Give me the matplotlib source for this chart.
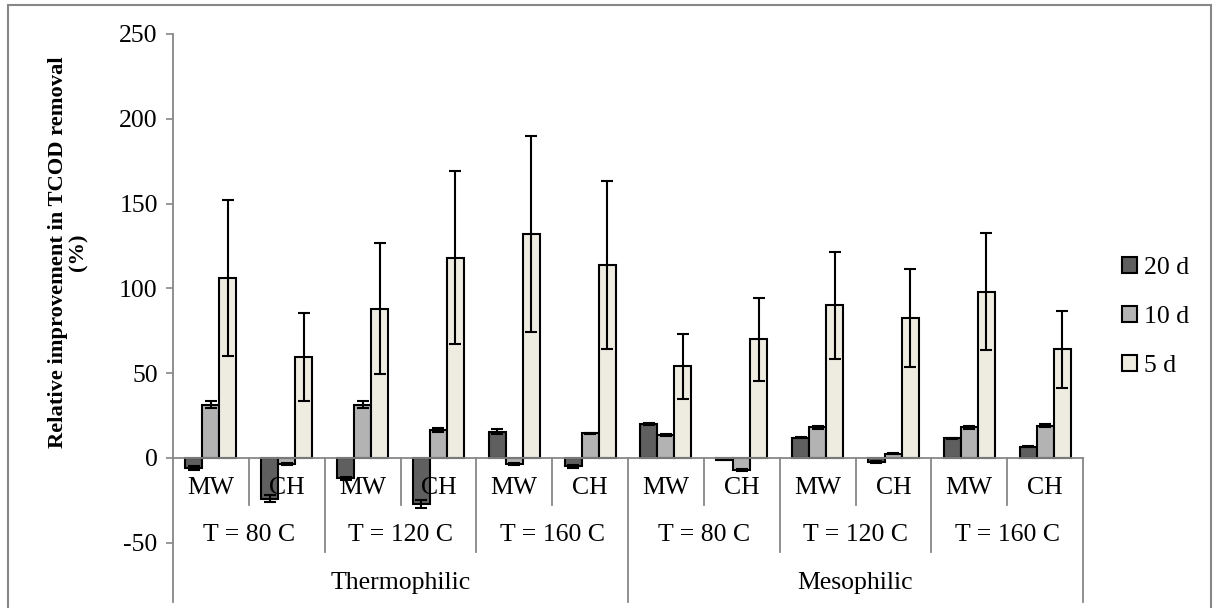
import matplotlib
matplotlib.use("Agg")
import matplotlib.pyplot as plt
from matplotlib.patches import Patch, Rectangle
import numpy as np

plt.rcParams['font.family'] = ['Liberation Serif', 'DejaVu Serif']
plt.rcParams['axes.unicode_minus'] = False

# groupes : Thermophilic / Mesophilic x T x (MW, CH)
methods = ['MW', 'CH'] * 6
temps = ['T = 80 C', 'T = 120 C', 'T = 160 C'] * 2
phases = ['Thermophilic', 'Mesophilic']

d20 = [-6, -24, -12, -27, 15.5, -5, 20, -1, 12, -2.5, 11.5, 6.5]
d10 = [31.5, -3.5, 31.5, 16.5, -3.5, 14.5, 13.5, -7, 18, 2.5, 18, 19]
d5 = [106, 59.5, 88, 118, 132, 114, 54, 70, 90, 82.7, 98, 64]

err20 = [1, 2, 1, 2.5, 1.5, 1, 0.5, 0.3, 0.5, 0.5, 0.5, 0.3]
err10 = [2, 0.5, 2, 1, 0.5, 0.5, 0.5, 0.5, 1, 0.3, 1, 1]
err5 = [46, 26, 38.5, 51, 58, 49.5, 19, 24.5, 31.5, 29, 34.5, 22.5]

series = ['20 d', '10 d', '5 d']
colors = ['#5f5f5f', '#b3b3b3', '#eeece1']

W, H = 1217, 608
fig = plt.figure(figsize=(W / 100, H / 100), dpi=100)
ymin = -(602 - 458) / 1.696
ax = fig.add_axes([173 / W, 1 - 602 / H, (1083 - 173) / W, (602 - 34) / H])

n = len(methods)
x = np.arange(n) + 0.5
w = 17 / 75.8
for k, (vals, errs) in enumerate([(d20, err20), (d10, err10), (d5, err5)]):
    ax.bar(x + (k - 1) * w, vals, width=w, color=colors[k], edgecolor='black',
           linewidth=1.5, zorder=2, label=series[k])
    ax.errorbar(x + (k - 1) * w, vals, yerr=errs, fmt='none', ecolor='black',
                elinewidth=1.5, capsize=4, capthick=1.5, zorder=3)

ax.set_xlim(0, n)
ax.set_ylim(ymin, 250)
ax.set_yticks(np.arange(-50, 251, 50))
ax.tick_params(axis='y', direction='out', length=5, width=1.2, color='#878787',
               labelsize=18.5, pad=6)
ax.set_xticks([])
for s in ['top', 'right', 'bottom']:
    ax.spines[s].set_visible(False)
ax.spines['left'].set_color('#878787')
ax.spines['left'].set_linewidth(1.3)

gray = '#878787'
ax.plot([0, n], [0, 0], color=gray, lw=1.3, zorder=4, clip_on=False)

y_mw = -(488 - 458) / 1.696
y_t = -(535 - 458) / 1.696
y_ph = -(583 - 458) / 1.696
y_sep1 = -(505 - 458) / 1.696
y_sep2 = -(552 - 458) / 1.696

for i in range(n):
    ax.text(x[i], y_mw, methods[i], ha='center', va='center', fontsize=18.5, zorder=5)
for j in range(6):
    ax.text(2 * j + 1, y_t, temps[j], ha='center', va='center', fontsize=18.5, zorder=5)
for p in range(2):
    ax.text(6 * p + 3, y_ph, phases[p], ha='center', va='center', fontsize=18.5, zorder=5)

for i in range(1, n):
    if i % 6 == 0:
        yb = ymin
    elif i % 2 == 0:
        yb = y_sep2
    else:
        yb = y_sep1
    ax.plot([i, i], [0, yb], color=gray, lw=1.3, zorder=4, clip_on=False)
ax.plot([n, n], [0, ymin], color=gray, lw=1.3, zorder=4, clip_on=False)

fig.text(68 / W, 1 - 252 / H, 'Relative improvement in TCOD removal\n(%)',
         rotation=90, ha='center', va='center', multialignment='center',
         fontsize=16.2, fontweight='bold', linespacing=1.0)

handles = [Patch(facecolor=c, edgecolor='black', linewidth=1.5) for c in colors]
fig.legend(handles, series, loc='center left', bbox_to_anchor=(1122 / W, 1 - 317 / H),
           frameon=False, fontsize=18.5, handlelength=0.6, handleheight=0.6,
           handletextpad=0.25, labelspacing=1.05, borderpad=0, borderaxespad=0)

fig.patches.append(Rectangle((8 / W, -0.01), (1211 - 8) / W, 1 - 5 / H + 0.01,
                             transform=fig.transFigure, fill=False,
                             edgecolor='#878787', linewidth=1.5))

fig.savefig('out.png', dpi=100)
